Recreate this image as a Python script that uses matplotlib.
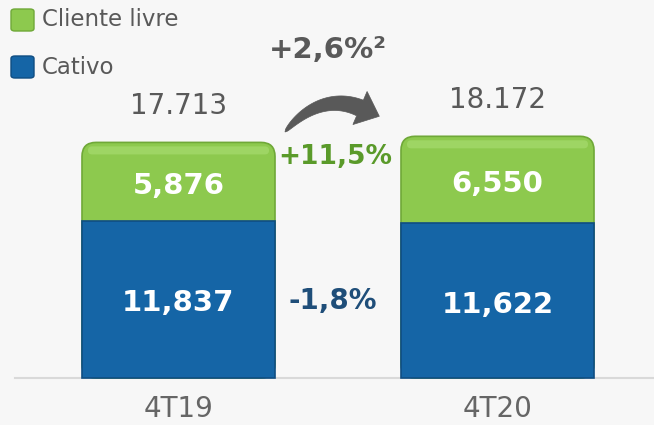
import numpy as np
import matplotlib.pyplot as plt
from matplotlib.patches import FancyBboxPatch, Polygon

# Data
periods = ["4T19", "4T20"]
cativo = [11837, 11622]
livre = [5876, 6550]
totals = ["17.713", "18.172"]
cativo_labels = ["11,837", "11,622"]
livre_labels = ["5,876", "6,550"]
var_livre = "+11,5%"
var_cativo = "-1,8%"
var_total = "+2,6%²"

GREEN = "#8dc94e"
GREEN_DARK = "#6fa838"
BLUE = "#1565a6"
BLUE_DARK = "#0f4d82"
GRAY = "#595959"
BG = "#f7f7f7"

W, H = 654, 425
fig = plt.figure(figsize=(W / 100, H / 100), dpi=100, facecolor=BG)
ax = fig.add_axes([0, 0, 1, 1])
ax.set_facecolor(BG)
ax.axis("off")

# scale: pixels per unit
sx, sy = 319.0, 0.0133
base_px = 378
x0_px = 178.5
ax.set_xlim(-x0_px / sx, (W - x0_px) / sx)
ax.set_ylim(-(H - base_px) / sy, base_px / sy)

x = np.arange(len(periods))
width = 193 / sx
tot = np.array(cativo) + np.array(livre)
aspect = (1 / sy) / (1 / sx)  # y-units per x-unit at equal pixels

for i in x:
    # green bar with rounded corners (bottom hidden under blue)
    r = 14 / sx
    p = FancyBboxPatch((i - width / 2, 0), width, tot[i],
                       boxstyle=f"round,pad=0,rounding_size={r}",
                       mutation_aspect=aspect, fc=GREEN, ec=GREEN_DARK, lw=1.2, zorder=2)
    ax.add_patch(p)
    # top highlight
    hl = FancyBboxPatch((i - width / 2 + 6 / sx, tot[i] - 12 / sy), width - 12 / sx, 8 / sy,
                        boxstyle=f"round,pad=0,rounding_size={4 / sx}",
                        mutation_aspect=aspect, fc="#a3d96a", ec="none", alpha=0.8, zorder=2.5)
    ax.add_patch(hl)

ax.bar(x, cativo, width=width, color=BLUE, edgecolor=BLUE_DARK, linewidth=1.2, zorder=3)

for i in x:
    ax.annotate(cativo_labels[i], (i, cativo[i] / 2), xytext=(0, -3), textcoords="offset points",
                ha="center", va="center", color="white", fontsize=21, fontweight="bold", zorder=4)
    ax.annotate(livre_labels[i], (i, cativo[i] + livre[i] / 2), xytext=(0, -3), textcoords="offset points",
                ha="center", va="center", color="white", fontsize=21, fontweight="bold", zorder=4)
    ax.annotate(totals[i], (i, tot[i]), xytext=(0, 16), textcoords="offset points",
                ha="center", va="bottom", color=GRAY, fontsize=20)
    ax.annotate(periods[i], (i, 0), xytext=(0, -22), textcoords="offset points",
                ha="center", va="center", color="#666666", fontsize=20)

# baseline
ax.plot([15 / W, 1], [1 - base_px / H] * 2, transform=ax.transAxes,
        color="#d9d9d9", lw=1.5, zorder=1)


def fx(px):
    return px / W


def fy(py):
    return 1 - py / H


# variation labels
ax.text(fx(335), fy(157), var_livre, transform=ax.transAxes, ha="center", va="center",
        color="#5a9a2a", fontsize=19, fontweight="bold")
ax.text(fx(333), fy(301), var_cativo, transform=ax.transAxes, ha="center", va="center",
        color="#1f4e79", fontsize=20, fontweight="bold")
ax.text(fx(328), fy(50), var_total, transform=ax.transAxes, ha="center", va="center",
        color=GRAY, fontsize=21, fontweight="bold")

# curved arrow (tapered body + head), built in pixel space
P = np.array([[285, 132], [305, 108], [332, 96], [360, 108]], float)
t = np.linspace(0, 1, 40)[:, None]
curve = ((1 - t) ** 3 * P[0] + 3 * (1 - t) ** 2 * t * P[1]
         + 3 * (1 - t) * t ** 2 * P[2] + t ** 3 * P[3])
deriv = (3 * (1 - t) ** 2 * (P[1] - P[0]) + 6 * (1 - t) * t * (P[2] - P[1])
         + 3 * t ** 2 * (P[3] - P[2]))
tang = deriv / np.linalg.norm(deriv, axis=1, keepdims=True)
norm = np.column_stack([tang[:, 1], -tang[:, 0]])
half = 8.5 * t[:, 0] ** 0.5
upper = curve + norm * half[:, None]
lower = curve - norm * half[:, None]
tip = P[3] + tang[-1] * 21
hb1 = P[3] + norm[-1] * 18
hb2 = P[3] - norm[-1] * 18
pts = np.vstack([upper, hb1, tip, hb2, lower[::-1]])
pts_ax = np.column_stack([pts[:, 0] / W, 1 - pts[:, 1] / H])
ax.add_patch(Polygon(pts_ax, closed=True, transform=ax.transAxes, fc=GRAY, ec=GRAY, lw=0.5))

# legend
for (label, col, ec, py) in [("Cliente livre", GREEN, GREEN_DARK, 20), ("Cativo", BLUE, BLUE_DARK, 67)]:
    sq = FancyBboxPatch((fx(11), fy(py + 11)), 23 / W, 22 / H, transform=ax.transAxes,
                        boxstyle="round,pad=0,rounding_size=0.006", fc=col, ec=ec, lw=1)
    ax.add_patch(sq)
    ax.text(fx(42), fy(py), label, transform=ax.transAxes, ha="left", va="center",
            color=GRAY, fontsize=16.5)

fig.savefig("out.png", dpi=100, facecolor=BG)
